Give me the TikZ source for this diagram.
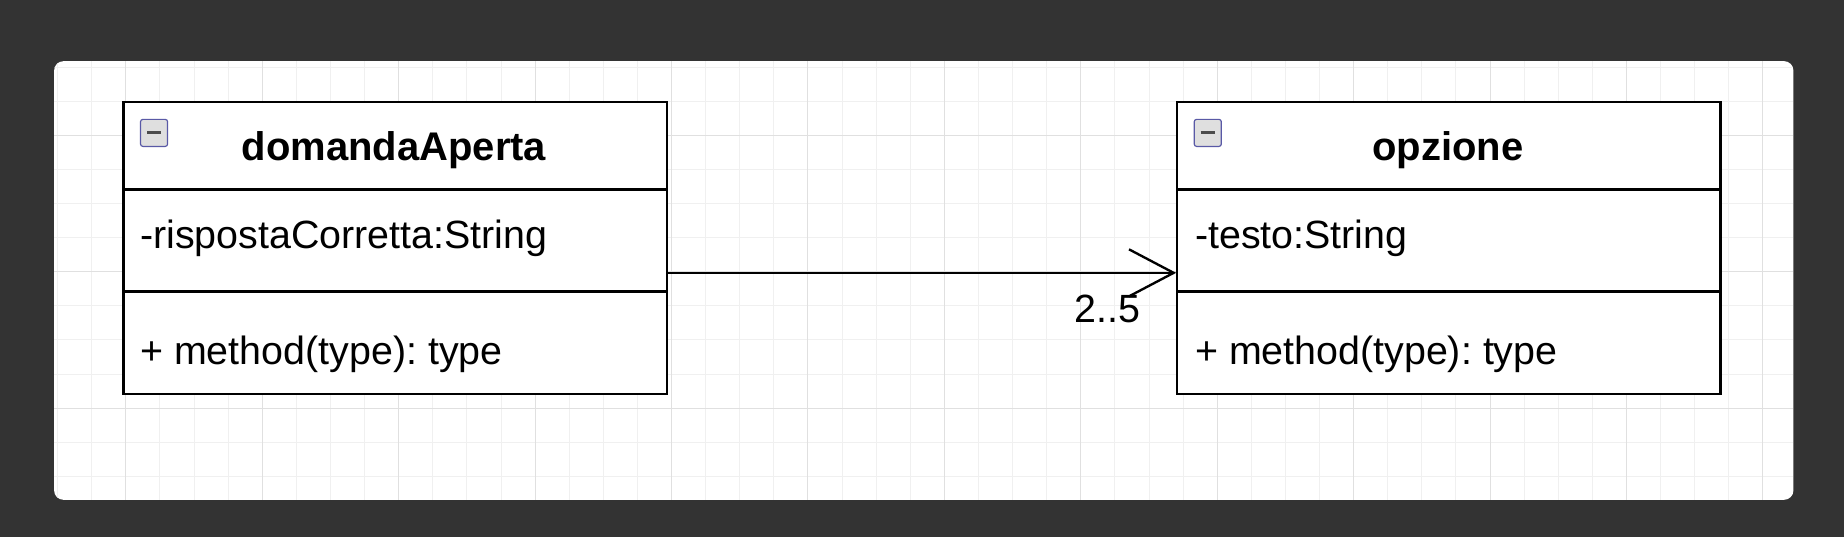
\documentclass[tikz,border=0pt]{standalone}
\usepackage{fontspec}
\setmainfont{Liberation Sans}
\frenchspacing
\begin{document}
\begin{tikzpicture}[x=1pt,y=-1pt,
  box/.style={draw=black,line width=2pt,fill=white},
  ttl/.style={font=\fontsize{34}{40}\selectfont\bfseries,anchor=center},
  txt/.style={font=\fontsize{33.5}{40}\selectfont,anchor=west,inner sep=0},
  icon/.style={draw=gray!70!blue,fill=gray!25,rounded corners=2pt,line width=1pt,minimum size=23pt,inner sep=0}]
\fill[black!80] (0,0) rectangle (1568,457);
\useasboundingbox (0,0) rectangle (1568,457);
\fill[white,rounded corners=8pt] (46,52) rectangle (1525,425);
\begin{scope}
\clip[rounded corners=8pt] (46,52) rectangle (1525,425);
\foreach \i in {-2,...,50} {\draw[black!6,line width=0.8pt] ({107+29*\i},52) -- ({107+29*\i},425);}
\foreach \i in {-3,...,12} {\draw[black!6,line width=0.8pt] (46,{115+29*\i}) -- (1525,{115+29*\i});}
\foreach \i in {-1,...,13} {\draw[black!12,line width=0.9pt] ({107+116*\i},52) -- ({107+116*\i},425);}
\foreach \i in {-1,...,3} {\draw[black!12,line width=0.9pt] (46,{115+116*\i}) -- (1525,{115+116*\i});}
\end{scope}
% left class
\draw[box] (105,87) rectangle (567,335);
\draw[line width=2pt] (105,161) -- (567,161) (105,248) -- (567,248);
\node[icon] (i1) at (131,113) {};
\draw[line width=2.4pt,black!70] ([xshift=-6pt]i1.center) -- ([xshift=6pt]i1.center);
\node[ttl] (t1) at (335,128) {domandaAperta};
\node[txt] (a1) at (119,203) {-rispostaCorretta:String};
\node[txt] (m1) at (119,301) {+ method(type): type};
% right class
\draw[box] (1001,87) rectangle (1463,335);
\draw[line width=2pt] (1001,161) -- (1463,161) (1001,248) -- (1463,248);
\node[icon] (i2) at (1027,113) {};
\draw[line width=2.4pt,black!70] ([xshift=-6pt]i2.center) -- ([xshift=6pt]i2.center);
\node[ttl] (t2) at (1231,128) {opzione};
\node[txt] (a2) at (1016,203) {-testo:String};
\node[txt] (m2) at (1016,301) {+ method(type): type};
% association
\coordinate (s) at (567,232);
\coordinate (e) at (998,232);
\draw[line width=2pt] (s) -- (e);
\draw[line width=2pt] (960,212) -- (e) -- (960,252);
\node[font=\fontsize{33.5}{40}\selectfont] (lbl) at (942,263) {2..5};
\end{tikzpicture}
\end{document}
